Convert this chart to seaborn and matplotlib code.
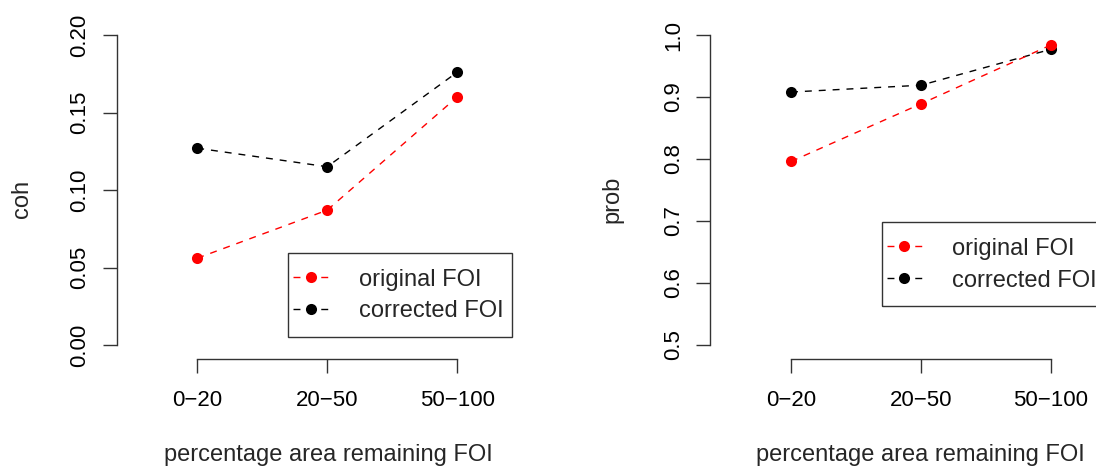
import matplotlib
matplotlib.use("Agg")
import matplotlib.pyplot as plt
from matplotlib.lines import Line2D
from matplotlib.patches import Rectangle
import numpy as np
import pandas as pd
import seaborn as sns

# ---- data -------------------------------------------------------------
categories = ["0\u221220", "20\u221250", "50\u2212100"]
series_names = ["original FOI", "corrected FOI"]
coh_original = [0.056, 0.087, 0.160]
coh_corrected = [0.127, 0.115, 0.176]
prob_original = [0.796, 0.889, 0.984]
prob_corrected = [0.908, 0.919, 0.977]
coh_ticks = [0.00, 0.05, 0.10, 0.15, 0.20]
prob_ticks = [0.5, 0.6, 0.7, 0.8, 0.9, 1.0]
x_label = "percentage area remaining FOI"

# ---- style ------------------------------------------------------------
sns.set_style("white")
plt.rcParams["font.family"] = ["Liberation Sans", "DejaVu Sans"]
plt.rcParams["axes.unicode_minus"] = True

W, H = 1096, 468
fig = plt.figure(figsize=(W / 100, H / 100), dpi=100)

AX_COL = "#333333"
colors = {series_names[0]: "#ff0000", series_names[1]: "#000000"}


def px(x, y):
    """figure pixel (from top-left) -> figure fraction"""
    return x / W, 1 - y / H


def long_frame(orig, corr):
    pos = np.arange(1, len(categories) + 1)
    return pd.DataFrame({
        "pos": np.concatenate([pos, pos]),
        "value": list(corr) + list(orig),
        "series": [series_names[1]] * len(pos) + [series_names[0]] * len(pos),
    })


def panel(left_px, orig, corr, ylim, yticks, yfmt, ylabel, ylabel_x,
          xlabel_x, legend_box):
    ax_w = 3.24 * 130
    bottom_px, top_px = 359.0, 22.6
    l, b = px(left_px, bottom_px)
    ax = fig.add_axes([l, b, ax_w / W, (bottom_px - top_px) / H])
    df = long_frame(orig, corr)
    sns.lineplot(data=df, x="pos", y="value", hue="series", style="series",
                 palette=colors,
                 dashes={s: (5, 5) for s in series_names},
                 markers={s: "o" for s in series_names},
                 markersize=8, markeredgewidth=0, linewidth=1,
                 sort=False, legend=False, ax=ax,
                 hue_order=[series_names[1], series_names[0]])
    ax.set_xlim(0.38, 3.62)
    ax.set_ylim(*ylim)
    for s in ("top", "right"):
        ax.spines[s].set_visible(False)
    for s in ("left", "bottom"):
        ax.spines[s].set_color(AX_COL)
        ax.spines[s].set_linewidth(1.0)
    ax.spines["left"].set_bounds(yticks[0], yticks[-1])
    ax.spines["bottom"].set_bounds(1, 3)
    ax.set_xticks([1, 2, 3])
    ax.set_xticklabels(categories)
    ax.set_yticks(yticks)
    ax.set_yticklabels([yfmt.format(v) for v in yticks])
    ax.tick_params(axis="both", direction="out", length=10, width=1.0,
                   color=AX_COL, labelsize=16, labelcolor="black",
                   left=True, bottom=True)
    ax.tick_params(axis="x", pad=12)
    ax.tick_params(axis="y", pad=9)
    for t in ax.get_yticklabels():
        t.set_rotation(90)
        t.set_va("center")
    ax.set_xlabel("")
    ax.set_ylabel("")
    ax.set_facecolor("white")

    fig.text(*px(ylabel_x, 199), ylabel, rotation=90, fontsize=17,
             ha="center", va="baseline", rotation_mode="anchor")
    fig.text(*px(xlabel_x, 461.5), x_label, fontsize=17,
             ha="center", va="baseline")

    # legend frame and entries
    bx0, by0, bx1, by1 = legend_box
    fx0, fy1 = px(bx0, by1)
    fx1, fy0 = px(bx1, by0)
    fig.patches.append(Rectangle((fx0, fy1), fx1 - fx0, fy0 - fy1,
                                 transform=fig.transFigure, fill=False,
                                 edgecolor=AX_COL, linewidth=1.0))
    handles = [Line2D([], [], color=colors[s], linestyle=(0, (5, 5)),
                      linewidth=1, marker="o", markersize=8,
                      markeredgewidth=0) for s in series_names]
    ax.legend(handles, series_names, loc="center left",
              bbox_to_anchor=px(bx0 + 5, (by0 + by1) / 2 + 0.8),
              bbox_transform=fig.transFigure, frameon=False, fontsize=17,
              borderpad=0, borderaxespad=0, handlelength=1.48,
              handletextpad=1.3, labelspacing=0.42)
    return ax


panel(116.6, coh_original, coh_corrected,
      (-0.00903, 0.208), coh_ticks, "{:.2f}", "coh", 28, 328.3,
      (288.3, 252.7, 512.3, 336.7))
panel(710.4, prob_original, prob_corrected,
      (0.47742, 1.02), prob_ticks, "{:.1f}", "prob", 618, 920.8,
      (881.7, 221.7, 1105.7, 306.0))

fig.savefig("out.png", dpi=100, facecolor="white")
